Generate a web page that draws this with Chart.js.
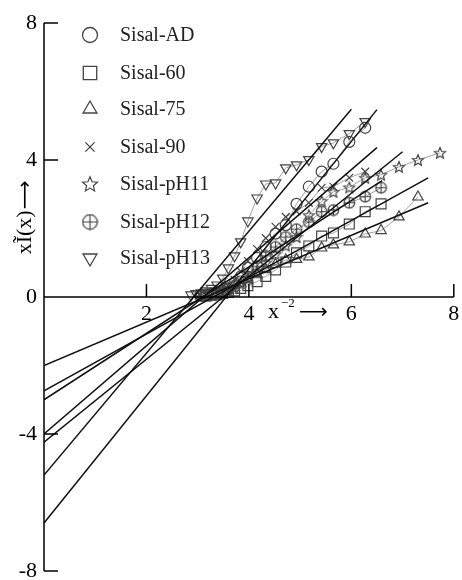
<!DOCTYPE html>
<html>
<head>
<meta charset="utf-8">
<script src="https://cdn.jsdelivr.net/npm/chart.js@4.4.1/dist/chart.umd.min.js"></script>
<style>
  html, body { margin: 0; padding: 0; background: #fff; }
  #wrap { width: 462px; height: 580px; position: relative; }
</style>
</head>
<body>
<div id="wrap"><canvas id="chart"></canvas></div>
<script>
// shared x positions of the measured points (x^-2)
const xGrid = [2.87, 2.97, 3.07, 3.17, 3.27, 3.38, 3.49, 3.6, 3.72, 3.84, 3.98, 4.16, 4.33,
  4.52, 4.72, 4.93, 5.17, 5.42, 5.65, 5.96, 6.27, 6.58, 6.93, 7.3, 7.73];

const seriesNames = ["Sisal-AD", "Sisal-60", "Sisal-75", "Sisal-90", "Sisal-pH11", "Sisal-pH12", "Sisal-pH13"];

const yAD   = [null, null, 0.05, 0.08, 0.1, 0.13, 0.18, 0.25, 0.4, 0.6, 0.85, 1.14, 1.46, 1.85, 2.1, 2.72, 3.22, 3.66, 3.89, 4.53, 4.94, null, null, null, null];
const y60   = [null, null, null, 0.03, 0.05, 0.07, 0.1, 0.13, 0.18, 0.25, 0.33, 0.45, 0.6, 0.79, 1.02, 1.29, 1.49, 1.78, 1.87, 2.13, 2.49, 2.72, null, null, null];
const y75   = [null, null, null, 0.04, 0.06, 0.1, 0.14, 0.2, 0.28, 0.38, 0.5, 0.65, 0.8, 0.95, 1.08, 1.1, 1.17, 1.43, 1.52, 1.61, 1.84, 1.94, 2.34, 2.92, null];
const y90   = [null, null, 0.04, 0.07, 0.1, 0.15, 0.22, 0.32, 0.5, 0.75, 1.05, 1.4, 1.72, 2.05, 2.34, 2.5, 2.75, 3.19, 3.22, 3.48, 3.66, null, null, null, null];
const yPH11 = [null, null, null, 0.04, 0.06, 0.1, 0.14, 0.2, 0.28, 0.4, 0.55, 0.75, 1.0, 1.25, 1.5, 1.75, 2.39, 2.8, 3.07, 3.2, 3.48, 3.57, 3.8, 4.0, 4.21];
const yPH12 = [null, null, 0.03, 0.05, 0.08, 0.12, 0.17, 0.24, 0.33, 0.45, 0.6, 0.9, 1.2, 1.46, 1.75, 1.98, 2.19, 2.49, 2.54, 2.75, 2.93, 3.19, null, null, null];
const yPH13 = [0.06, 0.1, 0.12, 0.18, 0.25, 0.35, 0.55, 0.85, 1.2, 1.61, 2.22, 2.89, 3.3, 3.33, 3.77, 3.86, 4.01, 4.39, 4.5, 4.77, 5.12, null, null, null, null];

// straight-line fits: value at x = 0 and the end point of each line
const fitIntercept = [-6.6, -2.74, -2.0, -4.0, -4.24, -3.0, -5.2];
const fitEndX = [6.5, 7.5, 7.5, 6.5, 7.0, 6.6, 6.0];
const fitEndY = [5.47, 3.48, 2.75, 4.36, 4.24, 3.4, 5.48];

const xTicks = [2, 4, 6, 8];
const yTicks = [8, 4, 0, -4, -8];

const serif = "'Liberation Serif', 'Times New Roman', serif";
const arrowFont = "'DejaVu Sans', sans-serif";
const markColor = "#444";
const joinColor = "#a0a0a0";

function makeMarker(kind, size) {
  const c = document.createElement("canvas");
  c.width = size; c.height = size;
  const g = c.getContext("2d");
  const m = size / 2, r = size / 2 - 1.2;
  g.strokeStyle = markColor;
  g.lineWidth = 1.2;
  g.beginPath();
  if (kind === "star") {
    for (let i = 0; i < 10; i++) {
      const a = -Math.PI / 2 + i * Math.PI / 5;
      const rr = i % 2 ? r * 0.45 : r;
      const px = m + rr * Math.cos(a), py = m + 0.6 + rr * Math.sin(a);
      i ? g.lineTo(px, py) : g.moveTo(px, py);
    }
    g.closePath();
  } else {
    g.arc(m, m, r, 0, Math.PI * 2);
    g.moveTo(m - r, m); g.lineTo(m + r, m);
    g.moveTo(m, m - r); g.lineTo(m, m + r);
  }
  g.stroke();
  return c;
}

const styles = [
  { pointStyle: "circle", rotation: 0, r: 5.5 },
  { pointStyle: "rect", rotation: 0, r: 7 },
  { pointStyle: "triangle", rotation: 0, r: 6 },
  { pointStyle: "crossRot", rotation: 0, r: 5.5 },
  { pointStyle: makeMarker("star", 14), rotation: 0, r: 7 },
  { pointStyle: makeMarker("plus", 13), rotation: 0, r: 7 },
  { pointStyle: "triangle", rotation: 180, r: 6 },
];
const legendStyles = [
  { pointStyle: "circle", rotation: 0, r: 7.5 },
  { pointStyle: "rect", rotation: 0, r: 9.5 },
  { pointStyle: "triangle", rotation: 0, r: 8 },
  { pointStyle: "crossRot", rotation: 0, r: 6.5 },
  { pointStyle: makeMarker("star", 18), rotation: 0, r: 9 },
  { pointStyle: makeMarker("plus", 17), rotation: 0, r: 9 },
  { pointStyle: "triangle", rotation: 180, r: 8 },
];

const allY = [yAD, y60, y75, y90, yPH11, yPH12, yPH13];

function toPoints(ys) {
  const pts = [];
  ys.forEach((v, i) => { if (v !== null) pts.push({ x: xGrid[i], y: v }); });
  return pts;
}

const datasets = [];
seriesNames.forEach((name, i) => {
  datasets.push({
    label: name + " fit",
    type: "line",
    data: [{ x: 0, y: fitIntercept[i] }, { x: fitEndX[i], y: fitEndY[i] }],
    borderColor: "#111",
    borderWidth: 1.5,
    pointRadius: 0,
    fill: false,
    order: 0,
  });
  datasets.push({
    label: name,
    type: "scatter",
    data: toPoints(allY[i]),
    showLine: true,
    borderColor: joinColor,
    borderWidth: 1,
    pointBorderColor: markColor,
    pointBackgroundColor: "rgba(0,0,0,0)",
    pointBorderWidth: 1.2,
    pointStyle: styles[i].pointStyle,
    pointRotation: styles[i].rotation,
    pointRadius: styles[i].r,
    order: 1,
  });
});

const axesPlugin = {
  id: "axesPlugin",
  afterDraw(chart) {
    const ctx = chart.ctx;
    const xs = chart.scales.x, ys = chart.scales.y;
    const x0 = xs.getPixelForValue(0), y0 = ys.getPixelForValue(0);
    ctx.save();
    ctx.strokeStyle = "#000";
    ctx.lineWidth = 1.5;
    ctx.beginPath();
    ctx.moveTo(x0, ys.getPixelForValue(8)); ctx.lineTo(x0, ys.getPixelForValue(-8));
    ctx.moveTo(x0, y0); ctx.lineTo(xs.getPixelForValue(8), y0);
    yTicks.forEach((t) => {
      if (t === 0) return;
      const py = ys.getPixelForValue(t);
      ctx.moveTo(x0, py); ctx.lineTo(x0 + 14, py);
    });
    xTicks.forEach((t) => {
      const px = xs.getPixelForValue(t);
      ctx.moveTo(px, y0); ctx.lineTo(px, y0 - 13);
    });
    ctx.stroke();

    ctx.fillStyle = "#000";
    ctx.font = "22px " + serif;
    ctx.textAlign = "right";
    ctx.textBaseline = "middle";
    yTicks.forEach((t) => {
      ctx.fillText(t < 0 ? "-" + Math.abs(t) : String(t), x0 - 7, ys.getPixelForValue(t));
    });
    ctx.textAlign = "center";
    xTicks.forEach((t) => {
      ctx.fillText(String(t), xs.getPixelForValue(t), y0 + 17);
    });

    // axis titles
    ctx.textAlign = "left";
    ctx.font = "22px " + serif;
    ctx.fillText("x", 268, y0 + 15);
    ctx.font = "13px " + serif;
    ctx.fillText("\u22122", 281, y0 + 7);
    ctx.font = "20px " + arrowFont;
    ctx.fillText("\u27F6", 299, y0 + 16);

    ctx.save();
    ctx.translate(25, 218);
    ctx.rotate(-Math.PI / 2);
    ctx.textAlign = "left";
    ctx.font = "22px " + serif;
    const lab = "x\u0128(x)";
    const w = ctx.measureText(lab).width;
    ctx.font = "20px " + arrowFont;
    const wa = ctx.measureText("\u27F6").width;
    const start = -(w + wa) / 2;
    ctx.font = "22px " + serif;
    ctx.fillText(lab, start, 0);
    ctx.font = "20px " + arrowFont;
    ctx.fillText("\u27F6", start + w + 1, 1);
    ctx.restore();

    // legend
    ctx.font = "20px " + serif;
    ctx.textAlign = "left";
    const rows = [35, 73, 109, 147, 184, 222, 258];
    seriesNames.forEach((name, i) => {
      const st = legendStyles[i];
      ctx.strokeStyle = markColor;
      ctx.fillStyle = "rgba(0,0,0,0)";
      ctx.lineWidth = 1.3;
      Chart.helpers.drawPoint(ctx, { pointStyle: st.pointStyle, rotation: st.rotation, radius: st.r, borderWidth: 1.3 }, 90, rows[i]);
      ctx.fillStyle = "#222";
      ctx.fillText(name, 120, rows[i] + 1);
    });
    ctx.restore();
  },
};

new Chart(document.getElementById("chart"), {
  type: "scatter",
  data: { datasets },
  options: {
    responsive: true,
    maintainAspectRatio: false,
    animation: false,
    layout: { padding: { left: 44, right: 6, top: 23, bottom: 9 } },
    scales: {
      x: { type: "linear", min: 0, max: 8, display: false },
      y: { type: "linear", min: -8, max: 8, display: false },
    },
    plugins: { legend: { display: false }, tooltip: { enabled: false } },
  },
  plugins: [axesPlugin],
});
</script>
</body>
</html>
